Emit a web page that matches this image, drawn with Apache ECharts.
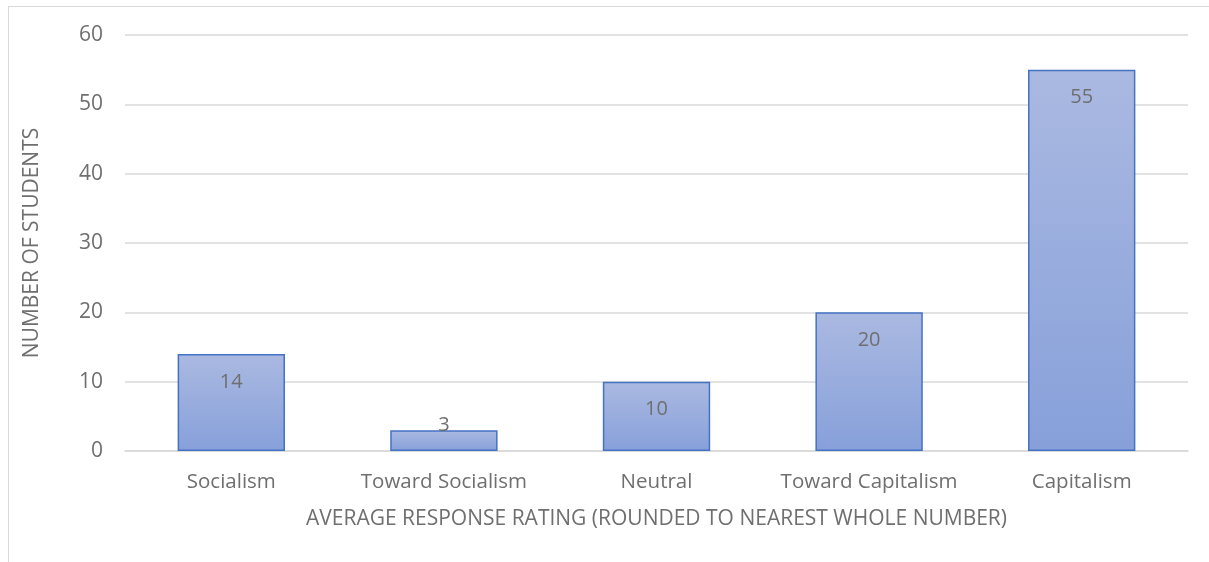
<!DOCTYPE html>
<html>
<head>
<meta charset="utf-8">
<script src="https://cdn.jsdelivr.net/npm/echarts@6/dist/echarts.min.js"></script>
<style>
  html, body { margin: 0; padding: 0; background: #fff; overflow: hidden; }
  #frame { position: absolute; left: 8px; top: 6px; width: 1260px; height: 600px; border: 1px solid #d9d9d9; }
  #chart { position: absolute; left: 0; top: 0; width: 1209px; height: 562px; }
</style>
</head>
<body>
<div id="frame"></div>
<div id="chart"></div>
<script>
const categories = ['Socialism', 'Toward Socialism', 'Neutral', 'Toward Capitalism', 'Capitalism']
const students = [14, 3, 10, 20, 55]

const FONT = 'Open Sans, sans-serif'
const TEXT = '#6f6f6f'

const chart = echarts.init(document.getElementById('chart'))

// small bars push the label above the bar top
const barData = students.map((v) => {
  if (v >= 5) return v
  return { value: v, label: { position: 'top', distance: -5 } }
})

chart.setOption({
  backgroundColor: 'transparent',
  animation: false,
  grid: { left: 125, right: 21, top: 35, bottom: 111 },
  xAxis: {
    type: 'category',
    data: categories,
    name: 'AVERAGE RESPONSE RATING (ROUNDED TO NEAREST WHOLE NUMBER)',
    nameLocation: 'middle',
    nameGap: 58,
    nameTextStyle: { color: TEXT, fontSize: 21, fontFamily: FONT },
    axisLine: { lineStyle: { color: '#d9d9d9', width: 1.5 } },
    axisTick: { show: false },
    axisLabel: { color: TEXT, fontSize: 20.5, fontFamily: FONT, margin: 21, interval: 0 },
  },
  yAxis: {
    type: 'value',
    min: 0,
    max: 60,
    interval: 10,
    name: 'NUMBER OF STUDENTS',
    nameLocation: 'middle',
    nameGap: 82,
    nameTextStyle: { color: TEXT, fontSize: 21, fontFamily: FONT },
    axisLabel: { color: TEXT, fontSize: 21, fontFamily: FONT, margin: 22 },
    axisLine: { show: false },
    axisTick: { show: false },
    splitLine: { lineStyle: { color: '#d9d9d9', width: 1.5 } },
  },
  series: [
    {
      type: 'bar',
      barWidth: '50.5%',
      data: barData,
      itemStyle: {
        color: new echarts.graphic.LinearGradient(0, 0, 0, 1, [
          { offset: 0, color: '#aab9e1' },
          { offset: 1, color: '#87a0da' },
        ]),
        borderColor: '#4472c4',
        borderWidth: 1.5,
      },
      label: {
        show: true,
        position: 'insideTop',
        distance: 18,
        color: TEXT,
        fontSize: 20,
        fontFamily: FONT,
      },
    },
  ],
})
</script>
</body>
</html>
